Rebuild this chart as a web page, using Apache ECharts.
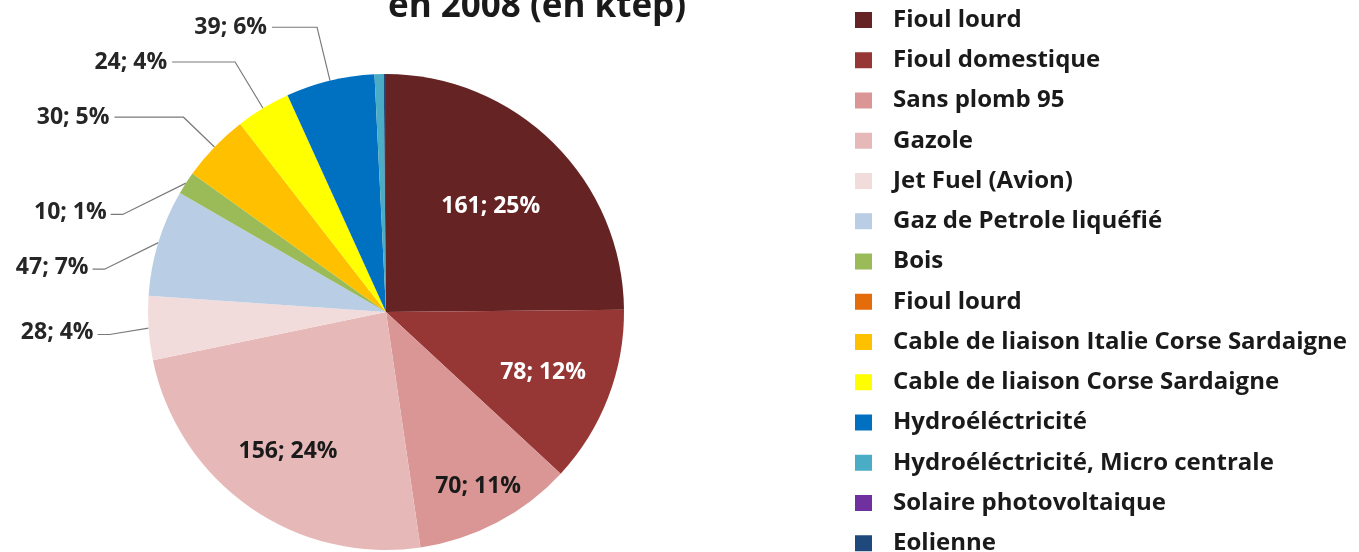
<!DOCTYPE html>
<html>
<head>
<meta charset="utf-8">
<script src="https://cdn.jsdelivr.net/npm/echarts@6/dist/echarts.min.js"></script>
<style>
  html, body { margin: 0; padding: 0; background: #ffffff; }
  #chart { width: 1359px; height: 552px; }
</style>
</head>
<body>
<div id="chart"></div>
<script>
// Energy consumption by source, 2008 (ktep)
const categories = [
  'Fioul lourd',
  'Fioul domestique',
  'Sans plomb 95',
  'Gazole',
  'Jet Fuel (Avion)',
  'Gaz de Petrole liquéfié',
  'Bois',
  'Fioul lourd',
  'Cable de liaison Italie Corse Sardaigne',
  'Cable de liaison Corse Sardaigne',
  'Hydroéléctricité',
  'Hydroéléctricité, Micro centrale',
  'Solaire photovoltaique',
  'Eolienne'
];
const values = [161, 78, 70, 156, 28, 47, 10, 0, 30, 24, 39, 4, 0, 1];
const colors = [
  '#652423', '#973735', '#d99694', '#e6b9b8', '#f2dcdb', '#b9cde5', '#9bbb59',
  '#e46c0a', '#ffc000', '#ffff00', '#0070c0', '#4bacc6', '#7030a0', '#1f497d'
];
const titleText = 'en 2008 (en ktep)';

// Where each slice's value label goes: inside the slice, outside with a leader line, or none
const labelPlacement = [
  'inside', 'inside', 'inside', 'inside', 'outside', 'outside', 'outside',
  'none', 'outside', 'outside', 'outside', 'none', 'none', 'none'
];
const insideLabelColor = ['#ffffff', '#ffffff', '#1a1a1a', '#1a1a1a'];
// How far inside labels sit out from the default half-radius spot
const insideRadiusScale = [1.22, 1.38, 1.62, 1.4];
// Leader line segment lengths [radial, horizontal] for outside labels
const leaderLengths = {
  4: [5, 45], 5: [5, 60], 6: [5, 70], 8: [43, 69], 9: [54, 63], 10: [55, 45]
};
// Extra downward shift for labels that sit below their slice
const labelDrop = { 4: 4, 5: 26, 6: 32 };

const pieCenter = [386, 312];
const pieRadius = 238;

const keyOf = (i) => i + '|' + categories[i];
const labelFont = { fontFamily: 'Open Sans', fontWeight: 'bold', fontSize: 23 };

// Point on the rim at the middle of slice i (clockwise from 12 o'clock)
const total = values.reduce((a, b) => a + b, 0);
function rimPoint(i) {
  let before = 0;
  for (let k = 0; k < i; k++) before += values[k];
  const theta = (before + values[i] / 2) / total * 2 * Math.PI;
  return [pieCenter[0] + pieRadius * Math.sin(theta), pieCenter[1] - pieRadius * Math.cos(theta)];
}

const pieData = values.map((v, i) => {
  const item = { name: keyOf(i), value: v, itemStyle: { color: colors[i] } };
  const place = labelPlacement[i];
  if (place === 'inside') {
    item.label = { show: true, position: 'inside', color: insideLabelColor[i] };
    item.labelLine = { show: false };
  } else if (place === 'outside') {
    const len = leaderLengths[i];
    item.label = { show: true, position: 'outside', color: '#262626' };
    item.labelLine = { show: true, length: len[0], length2: len[1] };
  } else {
    item.label = { show: false };
    item.labelLine = { show: false };
  }
  return item;
});

const chart = echarts.init(document.getElementById('chart'), null, { renderer: 'canvas' });
chart.setOption({
  backgroundColor: '#ffffff',
  animation: false,
  title: {
    text: titleText,
    left: 388,
    top: -10,
    padding: 0,
    textStyle: {
      fontFamily: 'Open Sans', fontWeight: 'bold', fontSize: 35, lineHeight: 35, color: '#1a1a1a'
    }
  },
  legend: {
    orient: 'vertical',
    left: 855,
    top: 7,
    height: 600,
    padding: 0,
    itemWidth: 17,
    itemHeight: 16,
    itemGap: 14.25,
    icon: 'rect',
    selectedMode: false,
    data: categories.map((c, i) => keyOf(i)),
    formatter: (name) => categories[+name.split('|')[0]],
    textStyle: {
      fontFamily: 'Open Sans', fontWeight: 'bold', fontSize: 24, lineHeight: 26,
      color: '#1a1a1a', padding: [0, 0, 0, 16]
    }
  },
  series: [{
    type: 'pie',
    center: pieCenter,
    radius: pieRadius,
    startAngle: 90,
    clockwise: true,
    avoidLabelOverlap: false,
    percentPrecision: 0,
    itemStyle: { borderWidth: 0 },
    label: Object.assign({
      formatter: (p) => p.value + '; ' + p.percent + '%'
    }, labelFont),
    labelLine: { lineStyle: { color: '#7a7a7a', width: 1.2 }, smooth: false },
    labelLayout: (p) => {
      const i = p.dataIndex;
      const r = p.labelRect;
      if (labelPlacement[i] === 'inside') {
        const k = insideRadiusScale[i];
        const lx = r.x + r.width / 2;
        const ly = r.y + r.height / 2;
        return {
          dx: (lx - pieCenter[0]) * (k - 1),
          dy: (ly - pieCenter[1]) * (k - 1)
        };
      }
      if (labelDrop[i]) {
        // label sits lower than its slice: short tail, then a slanted line up to the rim
        const x = r.x + r.width;
        const y = r.y + r.height / 2 + labelDrop[i];
        return {
          x: x,
          y: y,
          labelLinePoints: [rimPoint(i), [x + 16, y + 2], [x + 4, y + 2]]
        };
      }
      return {};
    },
    emphasis: { disabled: true },
    data: pieData
  }]
});
</script>
</body>
</html>
